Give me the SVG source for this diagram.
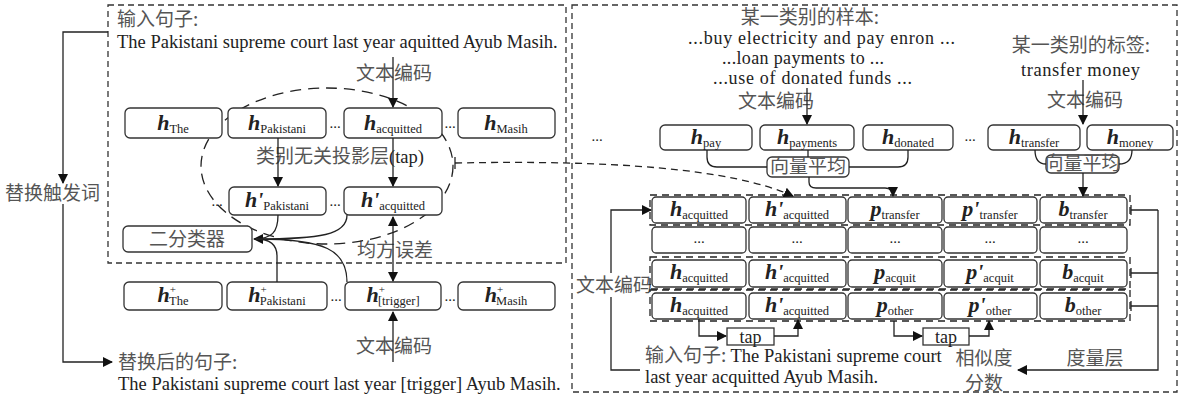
<svg xmlns="http://www.w3.org/2000/svg" width="1179" height="398" viewBox="0 0 1179 398">
<defs>
<marker id="ar" viewBox="0 0 10 10" refX="9" refY="5" markerWidth="10" markerHeight="10" markerUnits="userSpaceOnUse" orient="auto-start-reverse"><path d="M0,0 L10,5 L0,10 z" fill="#111"/></marker>
</defs>
<style>
.box{fill:#fff;stroke:#333;stroke-width:1.3}
.tbox{fill:#fff;stroke:#333;stroke-width:1.3}
.ln{fill:none;stroke:#222;stroke-width:1.3}
.dash{fill:none;stroke:#222;stroke-width:1.3;stroke-dasharray:7 5}
.frame{fill:none;stroke:#333;stroke-width:1.3;stroke-dasharray:6 4}
.ell{fill:none;stroke:#222;stroke-width:1.3;stroke-dasharray:11 7}
.en{font-family:"Liberation Serif","Times New Roman",serif;font-size:18.5px;fill:#222}
.enr{font-family:"Liberation Serif","Times New Roman",serif;font-size:18px;fill:#222}
.zh{font-family:"Noto Sans CJK SC","Noto Sans",sans-serif;font-size:19px;fill:#555;font-weight:400}
.lb{font-family:"Liberation Serif","Times New Roman",serif;fill:#222;text-anchor:middle}
.m{font-weight:bold;font-style:italic;font-size:22px}
.sub{font-size:12.5px}
.sup{font-size:11px}
.dots{font-family:"Liberation Serif",serif;font-size:15px;fill:#222;text-anchor:middle}
</style>

<g id="frames">
<rect class="frame" x="108" y="5" width="458" height="258"/>
<rect class="frame" x="572" y="5" width="605" height="387"/>
</g>

<g id="left-texts">
<text class="zh" x="117" y="26">输入句子:</text>
<text class="en" x="117" y="48">The Pakistani supreme court last year aquitted Ayub Masih.</text>
<text class="zh" x="356" y="80">文本编码</text>
<text x="256" y="163"><tspan class="zh">类别无关投影层</tspan><tspan class="en">(tap)</tspan></text>
<text class="zh" x="357" y="257">均方误差</text>
<text class="zh" x="356" y="353">文本编码</text>
<text class="zh" x="5" y="200">替换触发词</text>
<text class="zh" x="118" y="369">替换后的句子:</text>
<text class="en" x="118" y="390">The Pakistani supreme court last year [trigger] Ayub Masih.</text>
</g>

<ellipse class="ell" cx="327" cy="166" rx="126" ry="78"/>

<g id="row1">
<rect class="box" x="125" y="108" width="97" height="30" rx="5"/>
<text class="lb" x="173" y="130"><tspan class="m">h</tspan><tspan class="sub" dy="3">The</tspan></text>
<rect class="box" x="228" y="108" width="98" height="30" rx="5"/>
<text class="lb" x="277" y="130"><tspan class="m">h</tspan><tspan class="sub" dy="3">Pakistani</tspan></text>
<rect class="box" x="344" y="108" width="98" height="30" rx="5"/>
<text class="lb" x="393" y="130"><tspan class="m">h</tspan><tspan class="sub" dy="3">acquitted</tspan></text>
<rect class="box" x="458" y="108" width="97" height="30" rx="5"/>
<text class="lb" x="506" y="130"><tspan class="m">h</tspan><tspan class="sub" dy="3">Masih</tspan></text>
<text class="dots" x="335" y="128">...</text>
<text class="dots" x="450" y="128">...</text>
</g>

<g id="row2">
<rect class="box" x="229" y="187" width="97" height="28" rx="5"/>
<text class="lb" x="277" y="207"><tspan class="m">h'</tspan><tspan class="sub" dy="3">Pakistani</tspan></text>
<rect class="box" x="344" y="187" width="98" height="28" rx="5"/>
<text class="lb" x="393" y="207"><tspan class="m">h'</tspan><tspan class="sub" dy="3">acquitted</tspan></text>
<text class="dots" x="217" y="206">...</text>
<text class="dots" x="335" y="206">...</text>
</g>

<g id="classifier">
<rect class="box" x="123" y="226" width="129" height="26" rx="5"/>
<text class="zh" x="187" y="246" text-anchor="middle">二分类器</text>
</g>

<g id="row3">
<rect class="box" x="124" y="282" width="98" height="28" rx="5"/>
<text class="lb" x="173" y="302"><tspan class="m">h</tspan><tspan class="sup" dy="-9">+</tspan><tspan class="sub" dx="-7" dy="12">The</tspan></text>
<rect class="box" x="227" y="282" width="100" height="28" rx="5"/>
<text class="lb" x="277" y="302"><tspan class="m">h</tspan><tspan class="sup" dy="-9">+</tspan><tspan class="sub" dx="-7" dy="12">Pakistani</tspan></text>
<rect class="box" x="345" y="282" width="96" height="28" rx="5"/>
<text class="lb" x="393" y="302"><tspan class="m">h</tspan><tspan class="sup" dy="-9">+</tspan><tspan class="sub" dx="-7" dy="12">[trigger]</tspan></text>
<rect class="box" x="458" y="282" width="97" height="28" rx="5"/>
<text class="lb" x="506" y="302"><tspan class="m">h</tspan><tspan class="sup" dy="-9">+</tspan><tspan class="sub" dx="-7" dy="12">Masih</tspan></text>
<text class="dots" x="336" y="301">...</text>
<text class="dots" x="450" y="301">...</text>
</g>

<g id="right-texts">
<text class="zh" x="810" y="24" text-anchor="middle">某一类别的样本:</text>
<text class="enr" x="688" y="44" textLength="267">...buy electricity and pay enron ...</text>
<text class="enr" x="722" y="64" textLength="162">...loan payments to ...</text>
<text class="enr" x="713" y="84" textLength="199">...use of donated funds ...</text>
<text class="zh" x="776" y="108" text-anchor="middle">文本编码</text>
<text class="zh" x="1081" y="52" text-anchor="middle">某一类别的标签:</text>
<text class="en" x="1021" y="76" textLength="119">transfer money</text>
<text class="zh" x="1085" y="107" text-anchor="middle">文本编码</text>
<rect x="576" y="273" width="76" height="24" fill="#fff"/>
<text class="zh" x="576" y="292">文本编码</text>
<text x="645" y="362"><tspan class="zh">输入句子: </tspan><tspan class="en">The Pakistani supreme court</tspan></text>
<text class="en" x="645" y="383">last year acquitted Ayub Masih.</text>
<text class="zh" x="984" y="365" text-anchor="middle">相似度</text>
<text class="zh" x="984" y="390" text-anchor="middle">分数</text>
<text class="zh" x="1095" y="365" text-anchor="middle">度量层</text>
</g>

<g id="sample-enc">
<text class="dots" x="597" y="141">...</text>
<rect class="box" x="660" y="125" width="92" height="25" rx="5"/>
<text class="lb" x="706" y="144"><tspan class="m">h</tspan><tspan class="sub" dy="3">pay</tspan></text>
<rect class="box" x="760" y="125" width="94" height="25" rx="5"/>
<text class="lb" x="807" y="144"><tspan class="m">h</tspan><tspan class="sub" dy="3">payments</tspan></text>
<rect class="box" x="863" y="125" width="90" height="25" rx="5"/>
<text class="lb" x="908" y="144"><tspan class="m">h</tspan><tspan class="sub" dy="3">donated</tspan></text>
<text class="dots" x="970" y="141">...</text>
<rect class="box" x="988" y="125" width="92" height="25" rx="5"/>
<text class="lb" x="1034" y="144"><tspan class="m">h</tspan><tspan class="sub" dy="3">transfer</tspan></text>
<rect class="box" x="1087" y="125" width="86" height="25" rx="5"/>
<text class="lb" x="1130" y="144"><tspan class="m">h</tspan><tspan class="sub" dy="3">money</tspan></text>
</g>

<g id="avg1">
<rect class="box" x="767" y="157" width="82" height="20" rx="5"/>
<text class="zh" x="808" y="173" text-anchor="middle" font-size="17">向量平均</text>
</g>
<g id="avg2">
<rect class="box" x="1046" y="155" width="73" height="18" rx="5"/>
<text class="zh" x="1082.5" y="170" text-anchor="middle" font-size="16">向量平均</text>
</g>

<g id="grid">
<rect class="dash" x="650" y="195" width="480" height="30" stroke-dasharray="8 4"/>
<rect class="dash" x="650" y="257" width="480" height="32" stroke-dasharray="8 4"/>
<rect class="dash" x="650" y="290" width="480" height="31" stroke-dasharray="8 4"/>

<rect class="box" x="652" y="197" width="94" height="26" rx="4"/>
<rect class="box" x="749" y="197" width="97" height="26" rx="4"/>
<rect class="box" x="848" y="197" width="94" height="26" rx="4"/>
<rect class="box" x="944" y="197" width="93" height="26" rx="4"/>
<rect class="box" x="1040" y="197" width="87" height="26" rx="4"/>
<text class="lb" x="699" y="216"><tspan class="m">h</tspan><tspan class="sub" dy="3">acquitted</tspan></text>
<text class="lb" x="797" y="216"><tspan class="m">h'</tspan><tspan class="sub" dy="3">acquitted</tspan></text>
<text class="lb" x="895" y="216"><tspan class="m">p</tspan><tspan class="sub" dy="3">transfer</tspan></text>
<text class="lb" x="990" y="216"><tspan class="m">p'</tspan><tspan class="sub" dy="3">transfer</tspan></text>
<text class="lb" x="1083" y="216"><tspan class="m">b</tspan><tspan class="sub" dy="3">transfer</tspan></text>

<rect class="box" x="652" y="227" width="94" height="26" rx="4"/>
<rect class="box" x="749" y="227" width="97" height="26" rx="4"/>
<rect class="box" x="848" y="227" width="94" height="26" rx="4"/>
<rect class="box" x="944" y="227" width="93" height="26" rx="4"/>
<rect class="box" x="1040" y="227" width="87" height="26" rx="4"/>
<text class="dots" x="699" y="243">...</text>
<text class="dots" x="797" y="243">...</text>
<text class="dots" x="895" y="243">...</text>
<text class="dots" x="990" y="243">...</text>
<text class="dots" x="1083" y="243">...</text>

<rect class="box" x="652" y="260" width="94" height="27" rx="4"/>
<rect class="box" x="749" y="260" width="97" height="27" rx="4"/>
<rect class="box" x="848" y="260" width="94" height="27" rx="4"/>
<rect class="box" x="944" y="260" width="93" height="27" rx="4"/>
<rect class="box" x="1040" y="260" width="87" height="27" rx="4"/>
<text class="lb" x="699" y="279"><tspan class="m">h</tspan><tspan class="sub" dy="3">acquitted</tspan></text>
<text class="lb" x="797" y="279"><tspan class="m">h'</tspan><tspan class="sub" dy="3">acquitted</tspan></text>
<text class="lb" x="895" y="279"><tspan class="m">p</tspan><tspan class="sub" dy="3">acquit</tspan></text>
<text class="lb" x="990" y="279"><tspan class="m">p'</tspan><tspan class="sub" dy="3">acquit</tspan></text>
<text class="lb" x="1083" y="279"><tspan class="m">b</tspan><tspan class="sub" dy="3">acquit</tspan></text>

<rect class="box" x="652" y="293" width="94" height="26" rx="4"/>
<rect class="box" x="749" y="293" width="97" height="26" rx="4"/>
<rect class="box" x="848" y="293" width="94" height="26" rx="4"/>
<rect class="box" x="944" y="293" width="93" height="26" rx="4"/>
<rect class="box" x="1040" y="293" width="87" height="26" rx="4"/>
<text class="lb" x="699" y="312"><tspan class="m">h</tspan><tspan class="sub" dy="3">acquitted</tspan></text>
<text class="lb" x="797" y="312"><tspan class="m">h'</tspan><tspan class="sub" dy="3">acquitted</tspan></text>
<text class="lb" x="895" y="312"><tspan class="m">p</tspan><tspan class="sub" dy="3">other</tspan></text>
<text class="lb" x="990" y="312"><tspan class="m">p'</tspan><tspan class="sub" dy="3">other</tspan></text>
<text class="lb" x="1083" y="312"><tspan class="m">b</tspan><tspan class="sub" dy="3">other</tspan></text>
</g>

<g id="tap1">
<rect class="tbox" x="727" y="328" width="47" height="17"/>
<text class="lb" x="750.5" y="343" font-size="18">tap</text>
</g>
<g id="tap2">
<rect class="tbox" x="923" y="328" width="46" height="17"/>
<text class="lb" x="946" y="343" font-size="18">tap</text>
</g>

<g id="connectors">
<path class="ln" d="M108,32 H63 V183" marker-end="url(#ar)"/>
<path class="ln" d="M63,204 V362 H112" marker-end="url(#ar)"/>
<path class="ln" d="M393,57 V107" marker-end="url(#ar)"/>
<path class="ln" d="M278,138 V186" marker-end="url(#ar)"/>
<path class="ln" d="M393,138 V186" marker-end="url(#ar)"/>
<path class="ln" d="M393,217 V281" marker-start="url(#ar)" marker-end="url(#ar)"/>
<path class="ln" d="M393,362 V312" marker-end="url(#ar)"/>
<path class="ln" d="M278,215 C278,232 272,239 254,239" marker-end="url(#ar)"/>
<path class="ln" d="M347,215 C347,235 320,239 256,239"/>
<path class="ln" d="M277,282 V256 C277,244 270,239 256,239"/>
<path class="ln" d="M347,282 C347,250 325,239 256,239"/>
<path class="dash" d="M455,163 C610,160 730,168 793,196" stroke-dasharray="12 7" marker-end="url(#ar)"/>
<path class="ln" d="M455,157 V169"/>

<path class="ln" d="M807,88 V124" marker-end="url(#ar)"/>
<path class="ln" d="M1083,80 V124" marker-end="url(#ar)"/>
<path class="ln" d="M707,150 V157 Q707,167 717,167 H767"/>
<path class="ln" d="M908,150 V157 Q908,167 898,167 H849"/>
<path class="ln" d="M808,150 V157"/>
<path class="ln" d="M809,177 V182 Q809,188 816,188 H885 Q893,188 893,196" marker-end="url(#ar)"/>
<path class="ln" d="M1035,150 Q1035,164 1046,164"/>
<path class="ln" d="M1132,150 Q1132,164 1119,164"/>
<path class="ln" d="M1083,173 V196" marker-end="url(#ar)"/>

<path class="ln" d="M640,370 H611 V297"/>
<path class="ln" d="M611,273 V210 H651" marker-end="url(#ar)"/>

<path class="ln" d="M699,319 V336 H726" marker-end="url(#ar)"/>
<path class="ln" d="M774,336 H798 V320" marker-end="url(#ar)"/>
<path class="ln" d="M894,321 V336 H922" marker-end="url(#ar)"/>
<path class="ln" d="M969,336 H989 V321" marker-end="url(#ar)"/>

<path class="ln" d="M1131,210 H1158 M1131,273 H1158 M1131,306 H1158"/>
<path class="ln" d="M1131,205 V215 M1131,268 V278 M1131,301 V311"/>
<path class="ln" d="M1158,210 V370 H1018" marker-end="url(#ar)"/>
</g>
</svg>
